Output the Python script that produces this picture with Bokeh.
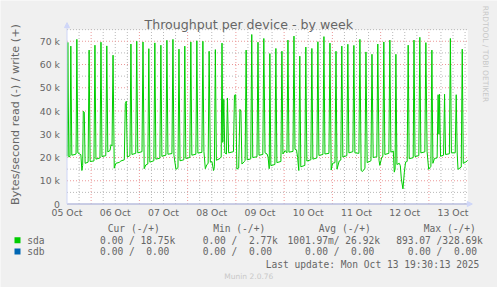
import math
from bokeh.plotting import figure
from bokeh.models import Range1d, Label, Arrow, NormalHead, BoxAnnotation, ColumnDataSource
from bokeh.embed import file_html
from bokeh.resources import INLINE

# ---- data ----
# hours since 05 Oct 00:00, sda write throughput in kB/s (k = 1000)
hours = [0.1, 0.4, 0.9, 1.5, 1.9, 2.4, 4.0, 4.5, 4.9, 5.4, 6.9, 7.4, 7.8, 8.1, 8.6, 9.0,
         10.5, 11.0, 11.5, 13.4, 13.9, 14.4, 16.4, 16.9, 17.4, 19.3, 19.8, 20.3, 21.4, 21.9,
         22.4, 22.9, 23.5, 24.3, 26.0, 26.8, 28.5, 29.0, 29.5, 30.0, 31.3, 31.8, 32.3, 34.2,
         34.7, 35.2, 37.3, 37.8, 38.4, 39.2, 40.2, 40.7, 41.2, 43.2, 43.7, 44.2, 46.2, 46.7,
         47.2, 49.2, 49.7, 50.2, 52.2, 52.7, 53.2, 54.2, 55.2, 55.7, 56.2, 58.1, 58.6, 59.1,
         61.1, 61.6, 62.1, 64.1, 64.6, 65.1, 67.1, 67.6, 68.1, 68.8, 69.6, 70.2, 70.7, 71.3,
         72.1, 72.9, 73.3, 73.8, 74.3, 76.1, 76.7, 77.1, 77.5, 78.0, 78.5, 79.3, 79.8, 80.4,
         82.8, 83.3, 83.9, 84.5, 85.4, 86.0, 86.5, 87.0, 88.2, 88.6, 89.1, 89.6, 91.4, 91.9,
         92.4, 94.5, 95.0, 95.5, 97.4, 97.9, 98.5, 99.5, 100.0, 100.6, 100.9, 101.4, 103.4,
         103.9, 104.4, 106.4, 106.9, 107.4, 108.5, 109.4, 109.9, 110.4, 112.4, 112.9, 113.4,
         114.2, 114.7, 115.3, 115.8, 116.3, 118.3, 118.8, 119.3, 121.3, 121.8, 122.3, 124.3,
         124.8, 125.3, 127.3, 127.8, 128.3, 130.3, 130.8, 131.4, 132.1, 133.3, 133.8, 134.3,
         135.4, 136.2, 136.7, 137.2, 139.2, 139.7, 140.2, 142.2, 142.7, 143.2, 145.2, 145.7,
         146.3, 147.0, 148.2, 148.7, 149.3, 151.2, 151.7, 152.3, 154.1, 154.6, 155.2, 155.6,
         156.6, 157.1, 157.6, 158.1, 160.1, 160.6, 161.1, 162.3, 162.8, 163.2, 163.6, 164.1,
         165.3, 165.8, 166.3, 167.1, 167.8, 168.4, 169.2, 169.7, 170.2, 172.2, 172.6, 173.1,
         175.0, 175.5, 176.0, 178.0, 178.5, 179.1, 179.9, 181.0, 181.5, 182.0, 182.8, 184.1,
         184.6, 185.0, 185.3, 185.8, 187.3, 187.8, 188.3, 190.2, 190.7, 191.2, 193.1, 193.6,
         194.1, 194.5, 196.1, 196.6, 197.1, 198.3, 199.3]
write_k = [20.5, 69.5, 20.2, 20.5, 67.9, 21.0, 21.3, 21.5, 70.8, 22.0, 21.2, 14.4, 16.6, 39.9, 39.5, 17.5,
           18.0, 66.2, 18.3, 18.5, 68.3, 19.3, 19.8, 69.6, 20.4, 20.8, 68.0, 22.4, 23.0, 25.5,
           25.0, 64.0, 15.4, 17.5, 17.9, 18.5, 19.0, 43.2, 44.2, 20.2, 20.8, 68.8, 21.3, 21.8,
           70.0, 22.0, 22.5, 69.7, 15.2, 16.8, 17.2, 66.8, 18.0, 18.6, 69.3, 19.3, 19.7, 68.3,
           20.5, 21.0, 70.4, 21.4, 21.7, 70.8, 20.9, 14.9, 15.6, 66.6, 18.6, 19.0, 67.9, 19.6,
           20.0, 69.7, 21.0, 21.4, 70.2, 21.9, 22.2, 70.0, 22.6, 15.2, 17.0, 17.4, 65.7, 18.0,
           18.2, 14.4, 16.0, 66.4, 18.8, 19.6, 20.2, 69.2, 26.5, 45.0, 22.0, 21.5, 45.6, 22.0,
           22.5, 46.8, 47.0, 15.0, 15.5, 40.7, 40.0, 17.2, 18.2, 18.8, 66.2, 19.0, 19.4, 72.9,
           20.0, 20.3, 69.6, 21.0, 21.3, 71.2, 22.0, 21.5, 20.2, 15.2, 64.7, 16.5, 17.0,
           66.9, 17.8, 18.3, 65.7, 21.5, 23.0, 22.0, 70.5, 22.3, 22.6, 72.2, 23.5,
           23.2, 20.0, 14.4, 63.6, 16.0, 16.6, 67.5, 18.5, 19.0, 66.9, 19.3, 19.8,
           69.8, 20.9, 21.3, 72.0, 21.5, 21.8, 69.2, 14.6, 17.5, 17.8, 65.7, 15.0,
           18.5, 18.9, 67.9, 20.2, 20.8, 68.7, 22.0, 22.5, 68.2, 22.0, 21.8, 70.8,
           14.4, 14.0, 15.4, 65.4, 17.8, 18.6, 64.4, 20.0, 20.3, 68.8, 18.8, 16.6,
           20.2, 20.4, 69.7, 21.3, 21.8, 70.5, 22.3, 22.8, 13.7, 15.0, 64.4, 17.0,
           17.5, 16.5, 10.8, 6.5, 13.7, 18.0, 18.3, 68.3, 19.5, 19.9, 70.5, 20.4,
           20.8, 71.7, 22.0, 22.4, 69.4, 22.6, 14.9, 16.2, 66.2, 17.5, 19.6, 19.8,
           47.0, 30.0, 47.2, 20.5, 21.0, 47.2, 21.3, 21.6, 71.2, 22.0, 22.0, 47.0,
           21.5, 14.9, 15.9, 66.6, 17.5, 18.0, 18.75]

day_ticks_h = [0, 24, 48, 72, 96, 120, 144, 168, 192]
day_labels = ["05 Oct", "06 Oct", "07 Oct", "08 Oct", "09 Oct", "10 Oct", "11 Oct", "12 Oct", "13 Oct"]
y_ticks_k = [0, 10, 20, 30, 40, 50, 60, 70]
y_tick_labels = ["0", "10 k", "20 k", "30 k", "40 k", "50 k", "60 k", "70 k"]

series_names = ["sda", "sdb"]
series_colors = ["#00cc00", "#0066b3"]
stat_headers = ["Cur (-/+)", "Min (-/+)", "Avg (-/+)", "Max (-/+)"]
sda_stats = ["0.00 / 18.75k", "0.00 /  2.77k", "1001.97m/ 26.92k", "893.07 /328.69k"]
sdb_stats = ["0.00 /  0.00", "0.00 /  0.00", "0.00 /  0.00", "0.00 /  0.00"]
last_update = "Last update: Mon Oct 13 19:30:13 2025"

# ---- layout: the frame covers the whole canvas; the graph area is drawn inside ----
W, H = 497, 287
PX_L, PX_B = 66.5, 203.5          # canvas position of (0 h, 0 B/s)
PX_PER_H = 48.25 / 24.0
PX_PER_K = 23.25 / 10.0
T_END, V_TOP = 199.4, 75000

x0 = -PX_L / PX_PER_H
x1 = (W - PX_L) / PX_PER_H
y0 = -(H - PX_B) / PX_PER_K * 1000
y1 = PX_B / PX_PER_K * 1000

p = figure(width=W, height=H, x_range=Range1d(x0, x1), y_range=Range1d(y0, y1),
           x_axis_type=None, y_axis_type=None, output_backend="svg", toolbar_location=None,
           min_border=0)
p.background_fill_color = "#f0f0f0"
p.border_fill_color = "#f0f0f0"
p.outline_line_color = None
p.grid.visible = False

FONT_COL = "#666666"
MINOR = "#b8b8b8"
MAJOR = "#eb9898"

# graph canvas
p.add_layout(BoxAnnotation(left=0, right=T_END, bottom=0, top=V_TOP, fill_color="#ffffff",
                           fill_alpha=1.0, line_color=None, level="underlay"))

# grid lines
vx, vc = [], []
for h in range(6, 200, 6):
    vx.append(h)
    vc.append(MAJOR if h % 24 == 12 else MINOR)
p.segment(x0=vx, y0=[0] * len(vx), x1=vx, y1=[V_TOP] * len(vx), line_color=vc,
          line_dash="1 2", line_width=1)
hy, hc = [], []
for k in range(5, 80, 5):
    hy.append(k * 1000)
    hc.append(MAJOR if k % 10 == 0 else MINOR)
p.segment(x0=[0] * len(hy), y0=hy, x1=[T_END] * len(hy), y1=hy, line_color=hc,
          line_dash="1 2", line_width=1)

# data
src = ColumnDataSource(data=dict(t=hours, v=[w * 1000 for w in write_k]))
p.line(x="t", y="v", source=src, line_color=series_colors[0], line_width=1)

# axes
AX = "#cfd6f8"
p.add_layout(Arrow(end=NormalHead(size=5, fill_color=AX, line_color=AX),
                   x_start=0, y_start=0, x_end=0, y_end=78000, line_color=AX, line_width=1))
p.add_layout(Arrow(end=NormalHead(size=5, fill_color=AX, line_color=AX),
                   x_start=0, y_start=0, x_end=201.6, y_end=0, line_color=AX, line_width=1))
p.line(x=[0, T_END], y=[0, 0], line_color="#8c8ca8", line_width=1)


def put(text, X, Y, size, font="DejaVu Sans", color=FONT_COL, align="left",
        baseline="middle", angle=0.0):
    p.add_layout(Label(x=X, y=H - Y, x_units="screen", y_units="screen",
                       text=text.replace(" ", "\u00a0") if font.endswith("Mono") else text,
                       text_font=font, text_font_size=f"{size}px", text_color=color,
                       text_align=align, text_baseline=baseline, angle=angle))


# tick labels
for h, lab in zip(day_ticks_h, day_labels):
    p.add_layout(Label(x=h, y=H - 211.7, x_units="data", y_units="screen", text=lab,
                       text_font="DejaVu Sans", text_font_size="9.3px", text_color=FONT_COL,
                       text_align="center", text_baseline="middle"))
for k, lab in zip(y_ticks_k, y_tick_labels):
    p.add_layout(Label(x=59.5, y=k * 1000, x_units="screen", y_units="data", text=lab,
                       text_font="DejaVu Sans", text_font_size="9.3px", text_color=FONT_COL,
                       text_align="right", text_baseline="middle"))

# title, axis label, watermark
put("Throughput per device - by week", 248.3, 24, 12.6, align="center", baseline="alphabetic")
put("Bytes/second read (-) / write (+)", 15, 114, 11.2, align="center", baseline="alphabetic",
    angle=math.pi / 2)
put("RRDTOOL / TOBI OETIKER", 484.8, 53.5, 7.5, color="#c8c8c8", align="center",
    baseline="alphabetic", angle=-math.pi / 2)
put("Munin 2.0.76", 248.3, 276, 7.5, color="#c8c8c8", align="center")

# legend
MONO = "DejaVu Sans Mono"
MS = 9.6
for txt, X in zip(stat_headers, [107.3, 212.7, 318.3, 423.3]):
    put(txt, X, 227.7, MS, font=MONO)
rows_y = [239.7, 251.0]
for name, col, Y, stats in zip(series_names, series_colors, rows_y, [sda_stats, sdb_stats]):
    p.add_layout(BoxAnnotation(left=14, right=20, top=H - (Y - 3), bottom=H - (Y + 3),
                               left_units="screen", right_units="screen", top_units="screen",
                               bottom_units="screen", fill_color=col, fill_alpha=1.0,
                               line_color=None, level="overlay"))
    put(name, 26.7, Y, MS, font=MONO)
    rights = [174.7, 277.3, 379.5, 482.3] if name == "sda" else [168.9, 271.5, 373.7, 476.5]
    for txt, Xr in zip(stats, rights):
        put(txt, Xr, Y, MS, font=MONO, align="right")
put(last_update, 372.0, 263.7, MS, font=MONO, align="center")

open("out.html", "w").write(file_html(p, INLINE))
